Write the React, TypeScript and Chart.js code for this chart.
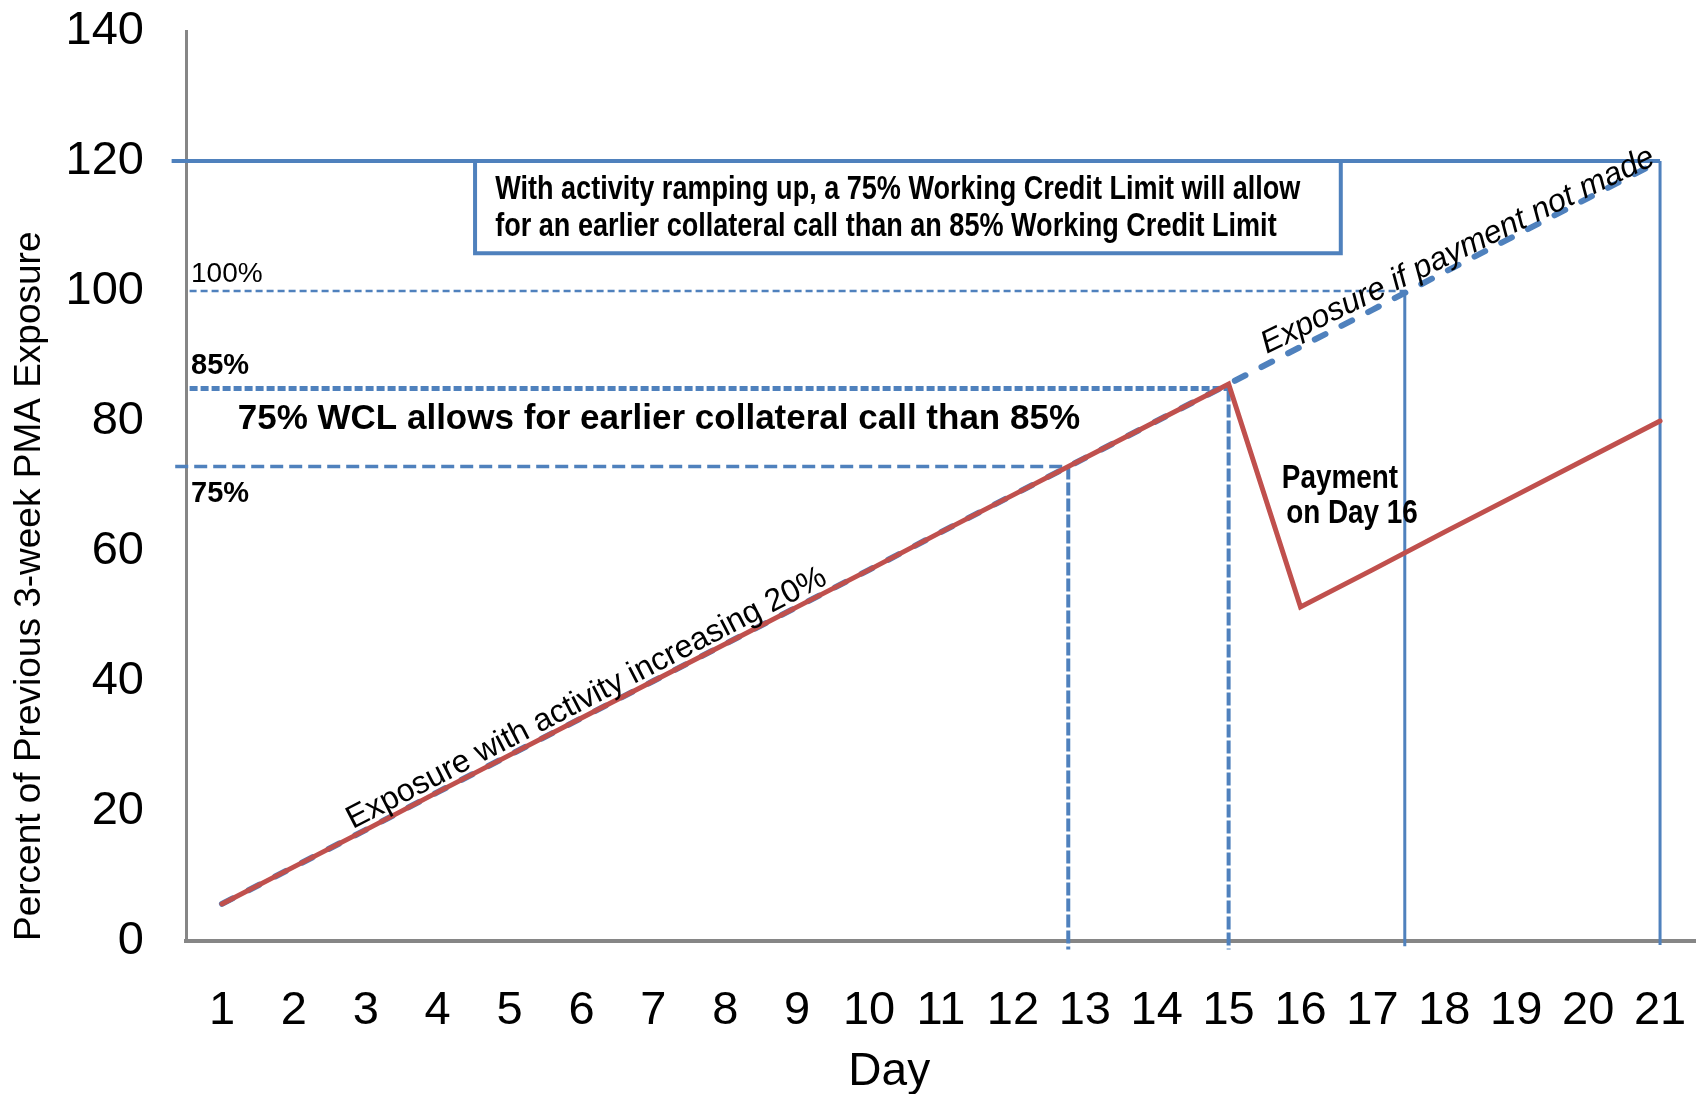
import React, { useEffect, useRef } from 'react';
import { Chart, registerables } from 'chart.js';

Chart.register(...registerables);

// ---- data ----
const days = [1, 2, 3, 4, 5, 6, 7, 8, 9, 10, 11, 12, 13, 14, 15, 16, 17, 18, 19, 20, 21];
const exposureWithPayment = [5.7, 11.4, 17.1, 22.9, 28.6, 34.3, 40.0, 45.7, 51.4, 57.1, 62.9, 68.6, 74.3, 80.0, 85.7, 51.4, 57.1, 62.9, 68.6, 74.3, 80.0];
const exposureNoPayment = [5.7, 11.4, 17.1, 22.9, 28.6, 34.3, 40.0, 45.7, 51.4, 57.1, 62.9, 68.6, 74.3, 80.0, 85.7, 91.4, 97.1, 102.9, 108.6, 114.3, 120.0];
const yTicks = [0, 20, 40, 60, 80, 100, 120, 140];

// limit levels (horizontal lines) and the day each one is reached (vertical lines)
const limitLevels = [120, 100, 85, 73];
const callDays = [21, 17.45, 15, 12.77];
const limitStartDays = [0.3, 0.55, 0.55, 0.35];
const callLineBottoms = [-0.6, -0.8, -1.3, -1.3];

// note box (day range, value range)
const boxDays = [4.52, 16.56];
const boxValues = [120, 105.8];

const BLUE = '#4F81BD';
const RED = '#C0504D';
const AXIS = '#868686';
const ARIAL = '"Liberation Sans", Arial, Helvetica, sans-serif';

const hStyles = [
  { w: 4, dash: [] as number[] },
  { w: 2.5, dash: [7, 4] },
  { w: 5, dash: [8, 3] },
  { w: 3.5, dash: [13, 6] },
];
const vStyles = [
  { w: 3, dash: [] as number[] },
  { w: 3, dash: [] as number[] },
  { w: 4, dash: [13, 3] },
  { w: 4, dash: [13, 3] },
];

const plainNotes = [
  { text: '100%', x: 0.57, y: 102.6, font: `28px ${ARIAL}`, sx: 1 },
  { text: '85%', x: 0.57, y: 88.5, font: `bold 29px ${ARIAL}`, sx: 1 },
  { text: '75%', x: 0.57, y: 68.8, font: `bold 29px ${ARIAL}`, sx: 1 },
  { text: '75% WCL allows for earlier collateral call than 85%', x: 1.22, y: 80.2, font: `bold 35px ${ARIAL}`, sx: 1 },
  { text: 'Payment', x: 15.74, y: 71.2, font: `bold 34px ${ARIAL}`, sx: 0.82 },
  { text: 'on Day 16', x: 15.8, y: 65.7, font: `bold 34px ${ARIAL}`, sx: 0.82 },
  { text: 'With activity ramping up, a 75% Working Credit Limit will allow', x: 4.8, y: 115.5, font: `bold 33px ${ARIAL}`, sx: 0.82 },
  { text: 'for an earlier collateral call than an 85% Working Credit Limit', x: 4.8, y: 109.9, font: `bold 33px ${ARIAL}`, sx: 0.82 },
];

// tilt (degrees) loosens the text angle relative to the line it follows
const slopedNotes = [
  { text: 'Exposure with activity increasing 20%', x: 2.82, y: 17.2, from: 1, to: 15, tilt: 0, font: `32px ${ARIAL}` },
  { text: 'Exposure if payment not made', x: 15.53, y: 90.3, from: 15, to: 21, tilt: 1.3, font: `italic 32px ${ARIAL}` },
];

const annotationPlugin = {
  id: 'notes',
  afterDatasetsDraw(chart: any) {
    const { ctx } = chart;
    const xs = chart.scales.x;
    const ys = chart.scales.y;
    ctx.save();
    ctx.fillStyle = '#000';
    for (const n of plainNotes) {
      ctx.save();
      ctx.translate(xs.getPixelForValue(n.x), ys.getPixelForValue(n.y));
      ctx.scale(n.sx, 1);
      ctx.font = n.font;
      ctx.textAlign = 'left';
      ctx.textBaseline = 'middle';
      ctx.fillText(n.text, 0, 0);
      ctx.restore();
    }
    for (const n of slopedNotes) {
      const i0 = days.indexOf(n.from);
      const i1 = days.indexOf(n.to);
      const ang = Math.atan2(
        ys.getPixelForValue(exposureNoPayment[i1]) - ys.getPixelForValue(exposureNoPayment[i0]),
        xs.getPixelForValue(days[i1]) - xs.getPixelForValue(days[i0])
      );
      ctx.save();
      ctx.translate(xs.getPixelForValue(n.x), ys.getPixelForValue(n.y));
      ctx.rotate(ang + (n.tilt * Math.PI) / 180);
      ctx.font = n.font;
      ctx.textAlign = 'left';
      ctx.textBaseline = 'alphabetic';
      ctx.fillText(n.text, 0, 0);
      ctx.restore();
    }
    ctx.font = `46px ${ARIAL}`;
    ctx.textAlign = 'center';
    ctx.textBaseline = 'alphabetic';
    ctx.fillText('Day', xs.getPixelForValue(10.28), chart.height - 9);
    ctx.restore();
  },
};

const series = (ys: number[]) => days.map((d, i) => ({ x: d, y: ys[i] }));

export default function App() {
  const ref = useRef<HTMLCanvasElement>(null);

  useEffect(() => {
    const canvas = ref.current;
    if (!canvas) return;
    const base = { pointRadius: 0, pointHoverRadius: 0, tension: 0, fill: false, borderColor: BLUE };
    const datasets: any[] = [
      {
        ...base,
        label: 'Exposure with payment on Day 16',
        data: series(exposureWithPayment),
        borderColor: RED,
        borderWidth: 5,
        borderJoinStyle: 'miter',
        borderCapStyle: 'round',
        order: 0,
      },
      {
        ...base,
        label: 'Exposure if payment not made',
        data: series(exposureNoPayment),
        borderWidth: 6,
        borderDash: [12, 18],
        borderCapStyle: 'round',
        order: 1,
      },
      ...limitLevels.map((lv, i) => ({
        ...base,
        label: `limit ${lv}`,
        data: [
          { x: limitStartDays[i], y: lv },
          { x: callDays[i], y: lv },
        ],
        borderWidth: hStyles[i].w,
        borderDash: hStyles[i].dash,
        clip: false,
        order: 2,
      })),
      ...callDays.map((d, i) => ({
        ...base,
        label: `call ${d}`,
        data: [
          { x: d, y: limitLevels[i] },
          { x: d, y: callLineBottoms[i] },
        ],
        borderWidth: vStyles[i].w,
        borderDash: vStyles[i].dash,
        clip: false,
        order: 2,
      })),
      {
        ...base,
        label: 'note box',
        data: [
          { x: boxDays[0], y: boxValues[0] },
          { x: boxDays[0], y: boxValues[1] },
          { x: boxDays[1], y: boxValues[1] },
          { x: boxDays[1], y: boxValues[0] },
        ],
        borderWidth: 4,
        borderJoinStyle: 'miter',
        clip: false,
        order: 2,
      },
    ];

    const chart = new Chart(canvas, {
      type: 'line',
      data: { datasets },
      plugins: [annotationPlugin],
      options: {
        animation: false,
        responsive: true,
        maintainAspectRatio: false,
        events: [],
        layout: { padding: { top: 31, left: 0, right: 0, bottom: 0 } },
        plugins: { legend: { display: false }, tooltip: { enabled: false } },
        scales: {
          x: {
            type: 'linear',
            min: 0.5,
            max: 21.5,
            grid: { display: false, drawTicks: false },
            border: { display: true, color: AXIS, width: 4 },
            afterBuildTicks: (scale: any) => {
              scale.ticks = days.map((d) => ({ value: d }));
            },
            afterFit: (scale: any) => {
              scale.height = 153;
              scale.paddingLeft = 0;
              scale.paddingRight = 0;
            },
            ticks: {
              autoSkip: false,
              maxRotation: 0,
              minRotation: 0,
              padding: 42,
              color: '#000',
              font: { family: ARIAL, size: 47, lineHeight: 1.2 },
            },
            title: { display: false },
          },
          y: {
            type: 'linear',
            min: 0,
            max: 140,
            grid: { display: false, drawTicks: false },
            border: { display: true, color: AXIS, width: 3 },
            afterBuildTicks: (scale: any) => {
              scale.ticks = yTicks.map((v) => ({ value: v }));
            },
            afterFit: (scale: any) => {
              scale.width = 186;
              scale.paddingTop = 0;
              scale.paddingBottom = 0;
            },
            ticks: {
              padding: 42,
              color: '#000',
              font: { family: ARIAL, size: 47, lineHeight: 1 },
            },
            title: {
              display: true,
              text: 'Percent of Previous 3-week PMA Exposure',
              align: 'start',
              color: '#000',
              font: { family: ARIAL, size: 37 },
              padding: { top: 8, bottom: 0 },
            },
          },
        },
      } as any,
    });
    return () => chart.destroy();
  }, []);

  return (
    <div style={{ position: 'absolute', left: 0, top: 0, width: 1696, height: 1094, background: '#fff' }}>
      <canvas ref={ref} />
    </div>
  );
}
